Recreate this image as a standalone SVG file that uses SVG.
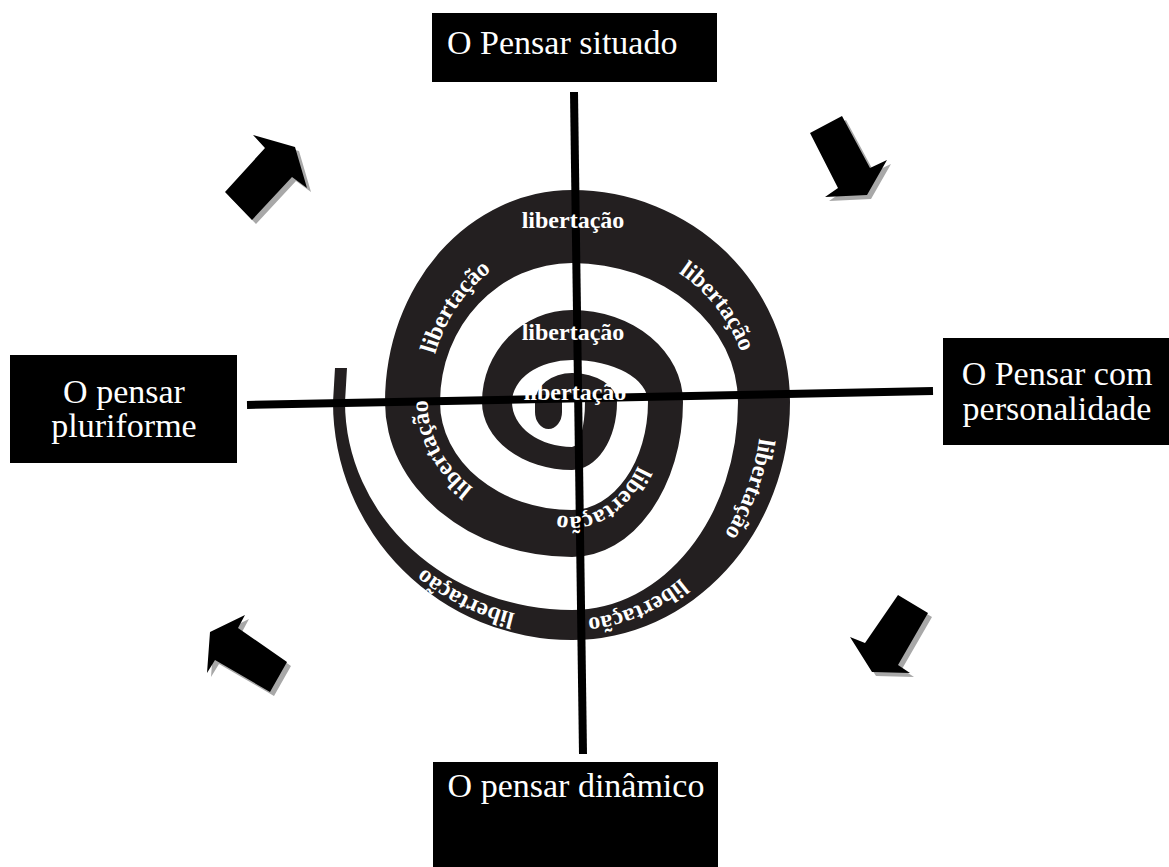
<svg xmlns="http://www.w3.org/2000/svg" width="1169" height="867" viewBox="0 0 1169 867">
<style>
.box{fill:#000}
.bt{font-family:"Liberation Serif","Times New Roman",serif;font-size:34px;fill:#fff}
.lib{font-family:"Liberation Serif","Times New Roman",serif;font-weight:bold;font-size:24px;fill:#fff}
.axis{stroke:#000;stroke-width:8;fill:none}
.arr{fill:#000}
.sh{fill:#a8a8a8}
.spiral{fill:#231f20}
</style>
<defs>
<path id="pb" d="M 429.7 422.2 A 143.5 158.7 0 0 1 553.8 244.6"/>
<path id="pc" d="M 604.4 243 A 177.6 161.7 0 0 1 746.6 431.5"/>
<path id="pd" d="M 749.7 324 A 189.8 221.7 0 0 1 638.8 609.5"/>
<path id="pe" d="M 739.2 497.1 A 186 217 0 0 1 490.5 597"/>
<path id="pf" d="M 639.2 610.6 A 228.5 218.3 0 0 1 353.6 466.2"/>
<path id="pg" d="M 514.4 509.9 A 144.5 117.7 0 0 1 439.5 355.1"/>
<path id="ph" d="M 647.7 435.5 A 79.2 114.7 0 0 1 530 499.3"/>
</defs>

<g id="spiral">
<path class="spiral" d="M 562 402 L 562 412 A 13.5 17 0 0 1 535 412 L 535 402
A 37 29 0 0 1 572 373 A 45 29 0 0 1 617 402 A 45 68 0 0 1 572 470
A 90 68 0 0 1 482 402 A 90 92 0 0 1 572 310 A 111 92 0 0 1 683 402
A 111 155 0 0 1 572 557 A 187 155 0 0 1 385 402 A 187 212 0 0 1 572 190
A 218 212 0 0 1 790 402 A 218 238 0 0 1 572 640 A 239 238 0 0 1 333 402
L 335 368 L 347 368 L 345 402
A 227 208 0 0 0 572 610 A 166 208 0 0 0 738 402 A 166 139 0 0 0 572 263
A 132 139 0 0 0 440 402 A 132 108 0 0 0 572 510 A 76 108 0 0 0 648 402
A 76 42 0 0 0 572 360 A 60 42 0 0 0 512 402 A 60 45 0 0 0 572 447
A 13 45 0 0 0 585 402 A 13 7 0 0 0 572 395 A 10 7 0 0 0 562 402 Z"/>
</g>

<g id="connectors">
<line class="axis" x1="574" y1="92" x2="583" y2="754"/>
<line class="axis" x1="247" y1="405" x2="933" y2="391"/>
</g>

<g id="spiral-labels">
<text class="lib" x="573" y="228" text-anchor="middle" font-size="25">libertação</text>
<text class="lib" x="573" y="340" text-anchor="middle" font-size="25">libertação</text>
<text class="lib" x="575" y="400" text-anchor="middle" font-size="25">libertação</text>
<text class="lib"><textPath href="#pb" startOffset="50%" text-anchor="middle">libertação</textPath></text>
<text class="lib"><textPath href="#pc" startOffset="50%" text-anchor="middle">libertação</textPath></text>
<text class="lib"><textPath href="#pd" startOffset="50%" text-anchor="middle">libertação</textPath></text>
<text class="lib"><textPath href="#pe" startOffset="50%" text-anchor="middle">libertação</textPath></text>
<text class="lib"><textPath href="#pf" startOffset="50%" text-anchor="middle">libertação</textPath></text>
<text class="lib"><textPath href="#pg" startOffset="50%" text-anchor="middle">libertação</textPath></text>
<text class="lib"><textPath href="#ph" startOffset="50%" text-anchor="middle">libertação</textPath></text>
</g>

<g id="node-situado">
<rect class="box" x="432" y="13" width="285" height="69"/>
<text class="bt" x="447" y="54">O Pensar situado</text>
</g>
<g id="node-pluriforme">
<rect class="box" x="10" y="355" width="227" height="108"/>
<text class="bt" x="124" y="403" text-anchor="middle">O pensar</text>
<text class="bt" x="124" y="437" text-anchor="middle">pluriforme</text>
</g>
<g id="node-personalidade">
<rect class="box" x="943" y="338" width="226" height="107"/>
<text class="bt" x="1057" y="385" text-anchor="middle">O Pensar com</text>
<text class="bt" x="1057" y="420" text-anchor="middle">personalidade</text>
</g>
<g id="node-dinamico">
<rect class="box" x="433" y="762" width="285" height="105"/>
<text class="bt" x="576" y="797" text-anchor="middle">O pensar dinâmico</text>
</g>

<g id="arrow-top-left">
<polygon class="sh" transform="translate(4,4)" points="225,192 265,148 253,135 295,147 307,188 292,177 252,220"/>
<polygon class="arr" points="225,192 265,148 253,135 295,147 307,188 292,177 252,220"/>
</g>
<g id="arrow-top-right">
<polygon class="sh" transform="translate(4,4)" points="810,133 842,116 870,168 887,160 867,195 825,197 838,188"/>
<polygon class="arr" points="810,133 842,116 870,168 887,160 867,195 825,197 838,188"/>
</g>
<g id="arrow-bottom-left">
<polygon class="sh" transform="translate(4,4)" points="210,632 245,615 238,628 287,662 270,692 215,660 207,673"/>
<polygon class="arr" points="210,632 245,615 238,628 287,662 270,692 215,660 207,673"/>
</g>
<g id="arrow-bottom-right">
<polygon class="sh" transform="translate(4,4)" points="898,595 928,613 898,665 910,673 872,672 850,637 865,643"/>
<polygon class="arr" points="898,595 928,613 898,665 910,673 872,672 850,637 865,643"/>
</g>
</svg>
